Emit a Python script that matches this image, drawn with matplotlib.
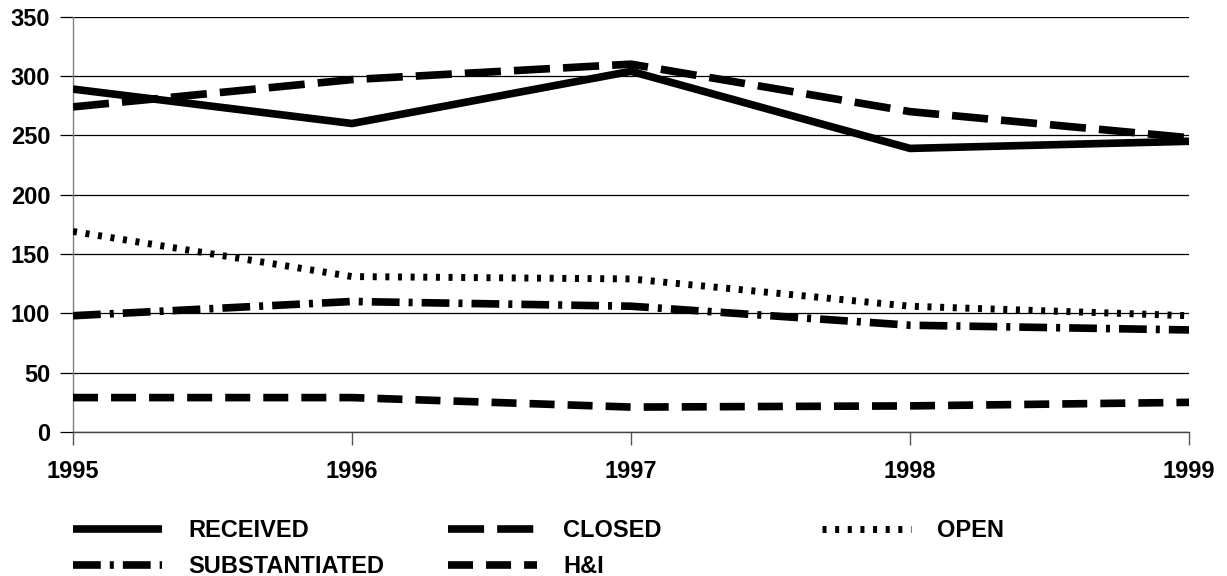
import matplotlib
matplotlib.use("Agg")
import matplotlib.pyplot as plt

years = [1995, 1996, 1997, 1998, 1999]
received = [289, 260, 304, 239, 245]
closed = [274, 297, 310, 270, 248]
open_ = [169, 131, 129, 106, 98]
substantiated = [98, 110, 106, 90, 86]
hi = [29, 29, 21, 22, 25]
labels = ["RECEIVED", "CLOSED", "OPEN", "SUBSTANTIATED", "H&I"]
yticks = [0, 50, 100, 150, 200, 250, 300, 350]

plt.rcParams['font.family'] = ['Liberation Sans', 'DejaVu Sans']
plt.rcParams['font.weight'] = 'bold'
plt.rcParams['lines.scale_dashes'] = False

W, H = 1227, 576
fig = plt.figure(figsize=(W / 100, H / 100), dpi=100)
ax = fig.add_axes([73 / W, 1 - 432 / H, (1189 - 73) / W, (432 - 16.7) / H])

common = dict(color='black', solid_capstyle='butt', dash_capstyle='butt',
              solid_joinstyle='miter', dash_joinstyle='miter', zorder=3)
l_rec, = ax.plot(years, received, lw=5.5, linestyle='-', **common)
l_clo, = ax.plot(years, closed, lw=5.5, linestyle=(0, (26, 9.4)), **common)
l_opn, = ax.plot(years, open_, lw=5.0, linestyle=(0, (2.9, 6.2)), **common)
l_sub, = ax.plot(years, substantiated, lw=5.5,
                 linestyle=(0, (20, 6.5, 2.9, 6.5)), **common)
l_hi, = ax.plot(years, hi, lw=5.5, linestyle=(0, (18, 9.4)), **common)

ax.set_xlim(1995, 1999)
ax.set_ylim(0, 350)
ax.set_xticks(years)
ax.set_xticklabels([str(y) for y in years])
ax.set_yticks(yticks)
ax.yaxis.grid(True, color='black', lw=0.9, zorder=0)
ax.set_axisbelow(True)
for s in ['top', 'right']:
    ax.spines[s].set_visible(False)
ax.spines['left'].set_color('#808080')
ax.spines['left'].set_linewidth(1.0)
ax.spines['bottom'].set_color('#444444')
ax.spines['bottom'].set_linewidth(1.0)
ax.tick_params(axis='y', length=9.4, width=0.9, color='black', pad=7,
               labelsize=17)
ax.tick_params(axis='x', length=9.4, width=1.0, color='#555555', pad=11,
               labelsize=17)

leg_kw = dict(loc='upper left', frameon=False, fontsize=17, borderpad=0,
              borderaxespad=0, handlelength=3.77, handletextpad=1.12,
              labelspacing=0.55)
groups = [([l_rec, l_sub], [labels[0], labels[3]], 73),
          ([l_clo, l_hi], [labels[1], labels[4]], 448),
          ([l_opn], [labels[2]], 822)]
for hs, ls, x0 in groups:
    lg = fig.legend(hs, ls, bbox_to_anchor=(x0 / W, 1 - 519 / H), **leg_kw)

fig.savefig("out.png", dpi=100)
